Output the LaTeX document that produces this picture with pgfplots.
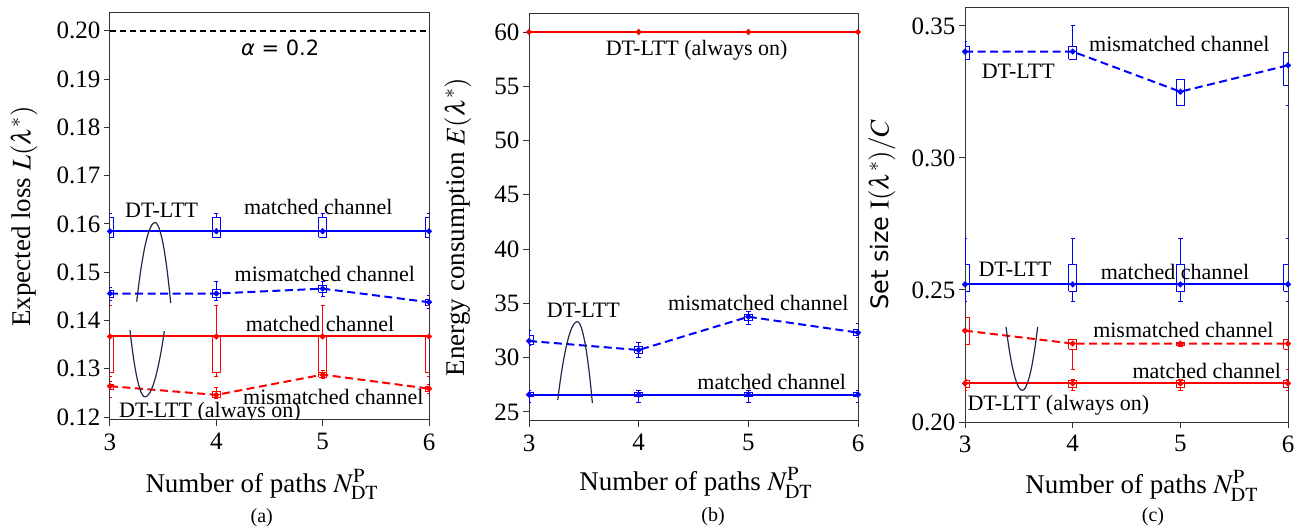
\documentclass[border=0pt]{standalone}
\usepackage{mathptmx}
\usepackage{fontspec}
\setmainfont{Liberation Serif}
\newfontfamily\dejavu{DejaVu Sans}
\usepackage{pgfplots}
\pgfplotsset{compat=1.18}
\definecolor{mblue}{RGB}{0,0,255}
\definecolor{mred}{RGB}{255,0,0}
\definecolor{navy}{RGB}{30,42,72}
\newcommand{\af}{\fontsize{22}{22}\selectfont}
% box: colour, position, lower whisker, lower quartile, median, upper quartile, upper whisker
\newcommand{\bx}[7]{%
 \pgfmathsetmacro\bxa{#2-0.0375}%
 \pgfmathsetmacro\bxb{#2+0.0375}%
 \pgfmathsetmacro\bxc{#2-0.02}%
 \pgfmathsetmacro\bxd{#2+0.02}%
 \edef\bxtmp{\noexpand\addplot[#1, line width=1pt, solid, forget plot, mark=none, unbounded coords=jump] coordinates {(\bxa,#4) (\bxb,#4) (\bxb,#6) (\bxa,#6) (\bxa,#4) (nan,nan) (#2,#6) (#2,#7) (nan,nan) (\bxc,#7) (\bxd,#7) (nan,nan) (#2,#4) (#2,#3) (nan,nan) (\bxc,#3) (\bxd,#3) (nan,nan) (\bxa,#5) (\bxb,#5)};}%
 \bxtmp
}
\pgfplotsset{
  myax/.style={
    scale only axis, anchor=south west, xmin=3, xmax=6, xtick={3,4,5,6},
    tick pos=left, tick align=outside, major tick length=6pt,
    axis line style={line width=1pt, black!80},
    every tick/.style={black!80, line width=1pt},
    tick label style={font=\fontsize{25}{25}\selectfont},
    xticklabel style={yshift=-4pt},
    label style={font=\fontsize{27}{27}\selectfont},
    /pgf/number format/assume math mode=true,
    scaled y ticks=false,
  },
  mline/.style={line width=2pt, mark=*, mark size=1.8pt, mark options={solid}},
  dline/.style={line width=2pt, dash pattern=on 8pt off 4.5pt, mark=*, mark size=1.8pt, mark options={solid}},
}
\begin{document}
\begin{tikzpicture}
\useasboundingbox (0,0) rectangle (1295pt,527pt);
% ---------------- (a)
\begin{axis}[myax, at={(110pt,107pt)}, width=319pt, height=407pt,
  ymin=0.1194, ymax=0.2037,
  ytick={0.12,0.13,0.14,0.15,0.16,0.17,0.18,0.19,0.20},
  yticklabel style={/pgf/number format/fixed, /pgf/number format/fixed zerofill, /pgf/number format/precision=2},
  ylabel={Expected loss $L(\lambda^{*})$},
  xlabel={Number of paths $N_{\mathrm{DT}}^{\mathrm{P}}$},
  ylabel style={at={(axis description cs:-0.27,0.5)}, anchor=center},
  xlabel style={at={(axis description cs:0.476,-0.177)}, anchor=base}]
\addplot[black, line width=1.5pt, dash pattern=on 6pt off 4pt] coordinates {(3,0.2) (6,0.2)};
% blue matched
\bx{mblue}{3}{0.1572}{0.1572}{0.1585}{0.1614}{0.1622}
\bx{mblue}{4}{0.1572}{0.1572}{0.1585}{0.1614}{0.1622}
\bx{mblue}{5}{0.1572}{0.1572}{0.1585}{0.1614}{0.1622}
\bx{mblue}{6}{0.1572}{0.1572}{0.1585}{0.1614}{0.1622}
\addplot[mblue, mline] coordinates {(3,0.1585) (4,0.1585) (5,0.1585) (6,0.1585)};
% blue mismatched
\bx{mblue}{3}{0.1441}{0.1447}{0.1456}{0.1463}{0.1469}
\bx{mblue}{4}{0.1441}{0.1448}{0.1456}{0.1465}{0.1481}
\bx{mblue}{5}{0.1450}{0.1459}{0.1466}{0.1472}{0.1481}
\bx{mblue}{6}{0.1425}{0.1432}{0.1438}{0.1444}{0.1452}
\addplot[mblue, dline] coordinates {(3,0.1456) (4,0.1456) (5,0.1466) (6,0.1438)};
% red matched
\bx{mred}{3}{0.1284}{0.1292}{0.1367}{0.1367}{0.1431}
\bx{mred}{4}{0.1284}{0.1292}{0.1367}{0.1367}{0.1431}
\bx{mred}{5}{0.1284}{0.1292}{0.1367}{0.1367}{0.1431}
\bx{mred}{6}{0.1284}{0.1292}{0.1367}{0.1367}{0.1431}
\addplot[mred, mline] coordinates {(3,0.1367) (4,0.1367) (5,0.1367) (6,0.1367)};
% red mismatched
\bx{mred}{3}{0.1241}{0.1258}{0.1264}{0.1268}{0.1274}
\bx{mred}{4}{0.1238}{0.1240}{0.1246}{0.1252}{0.1262}
\bx{mred}{5}{0.1280}{0.1283}{0.1288}{0.1292}{0.1297}
\bx{mred}{6}{0.1249}{0.1254}{0.1259}{0.1263}{0.1268}
\addplot[mred, dline] coordinates {(3,0.1264) (4,0.1246) (5,0.1288) (6,0.1259)};
\node[font=\dejavu\fontsize{21}{21}\selectfont] at (axis cs:4.6,0.1964) {\textit{α} = 0.2};
\node[font=\af] at (axis cs:3.486,0.1629) {DT-LTT};
\node[font=\af] at (axis cs:4.959,0.1635) {matched channel};
\node[font=\af] at (axis cs:5.02,0.1496) {mismatched channel};
\node[font=\af] at (axis cs:4.975,0.1393) {matched channel};
\node[font=\af] at (axis cs:5.10,0.1242) {mismatched channel};
\node[font=\af] at (axis cs:3.94,0.1211) {DT-LTT (always on)};
\draw[navy, line width=1.2pt] (axis cs:3.251,0.1439) parabola bend (axis cs:3.423,0.1603) (axis cs:3.571,0.1436);
\draw[navy, line width=1.2pt] (axis cs:3.188,0.1380) parabola bend (axis cs:3.329,0.1242) (axis cs:3.511,0.1378);
\end{axis}
% ---------------- (b)
\begin{axis}[myax, at={(529pt,106pt)}, width=329pt, height=407pt,
  ymin=24.17, ymax=61.66,
  ytick={25,30,35,40,45,50,55,60},
  ylabel={Energy consumption $E(\lambda^{*})$},
  xlabel={Number of paths $N_{\mathrm{DT}}^{\mathrm{P}}$},
  ylabel style={at={(axis description cs:-0.216,0.477)}, anchor=center},
  xlabel style={at={(axis description cs:0.507,-0.171)}, anchor=base}]
\addplot[mred, mline] coordinates {(3,60) (4,60) (5,60) (6,60)};
\bx{mblue}{3}{31.08}{31.2}{31.54}{32.0}{32.47}
\bx{mblue}{4}{30.0}{30.4}{30.71}{31.0}{31.39}
\bx{mblue}{5}{33.09}{33.4}{33.77}{34.0}{34.23}
\bx{mblue}{6}{31.85}{32.0}{32.31}{32.6}{33.15}
\addplot[mblue, dline] coordinates {(3,31.54) (4,30.71) (5,33.77) (6,32.31)};
\bx{mblue}{3}{25.83}{26.4}{26.6}{26.8}{27.0}
\bx{mblue}{4}{25.83}{26.4}{26.6}{26.8}{27.0}
\bx{mblue}{5}{25.83}{26.4}{26.6}{26.8}{27.0}
\bx{mblue}{6}{25.83}{26.4}{26.6}{26.8}{27.0}
\addplot[mblue, mline] coordinates {(3,26.6) (4,26.6) (5,26.6) (6,26.6)};
\node[font=\af] at (axis cs:4.529,58.34) {DT-LTT (always on)};
\node[font=\af] at (axis cs:3.495,34.40) {DT-LTT};
\node[font=\af] at (axis cs:5.091,35.0) {mismatched channel};
\node[font=\af] at (axis cs:5.213,27.80) {matched channel};
\draw[navy, line width=1.2pt] (axis cs:3.262,26.11) parabola bend (axis cs:3.440,33.32) (axis cs:3.578,25.81);
\end{axis}
% ---------------- (c)
\begin{axis}[myax, at={(965pt,105pt)}, width=323pt, height=414pt,
  ymin=0.20, ymax=0.3568,
  ytick={0.20,0.25,0.30,0.35},
  yticklabel style={/pgf/number format/fixed, /pgf/number format/fixed zerofill, /pgf/number format/precision=2},
  ylabel={{\dejavu\fontsize{24}{24}\selectfont Set size} $\mathrm{I}(\lambda^{*})/C$},
  xlabel={Number of paths $N_{\mathrm{DT}}^{\mathrm{P}}$},
  ylabel style={at={(axis description cs:-0.257,0.5)}, anchor=center},
  xlabel style={at={(axis description cs:0.547,-0.172)}, anchor=base}]
\bx{mblue}{3}{0.3374}{0.3374}{0.3403}{0.3422}{0.3440}
\bx{mblue}{4}{0.3374}{0.3374}{0.3403}{0.3422}{0.3500}
\bx{mblue}{5}{0.3197}{0.3197}{0.3251}{0.3299}{0.3299}
\bx{mblue}{6}{0.3197}{0.3273}{0.3351}{0.3399}{0.3399}
\addplot[mblue, dline] coordinates {(3,0.3403) (4,0.3403) (5,0.3251) (6,0.3351)};
\bx{mblue}{3}{0.2458}{0.2496}{0.2521}{0.2595}{0.2696}
\bx{mblue}{4}{0.2458}{0.2496}{0.2521}{0.2595}{0.2696}
\bx{mblue}{5}{0.2458}{0.2496}{0.2521}{0.2595}{0.2696}
\bx{mblue}{6}{0.2458}{0.2496}{0.2521}{0.2595}{0.2696}
\addplot[mblue, mline] coordinates {(3,0.2521) (4,0.2521) (5,0.2521) (6,0.2521)};
\bx{mred}{3}{0.2294}{0.2294}{0.2346}{0.2394}{0.2394}
\bx{mred}{4}{0.2197}{0.2275}{0.2297}{0.2312}{0.2312}
\bx{mred}{5}{0.2285}{0.2288}{0.2297}{0.2302}{0.2302}
\bx{mred}{6}{0.2200}{0.2275}{0.2297}{0.2312}{0.2312}
\addplot[mred, dline] coordinates {(3,0.2346) (4,0.2297) (5,0.2297) (6,0.2297)};
\bx{mred}{3}{0.2118}{0.2130}{0.2146}{0.2156}{0.2160}
\bx{mred}{4}{0.2118}{0.2130}{0.2146}{0.2156}{0.2160}
\bx{mred}{5}{0.2118}{0.2130}{0.2146}{0.2156}{0.2160}
\bx{mred}{6}{0.2118}{0.2130}{0.2146}{0.2156}{0.2160}
\addplot[mred, mline] coordinates {(3,0.2146) (4,0.2146) (5,0.2146) (6,0.2146)};
\node[font=\af] at (axis cs:4.990,0.3432) {mismatched channel};
\node[font=\af] at (axis cs:3.495,0.3327) {DT-LTT};
\node[font=\af] at (axis cs:3.464,0.2578) {DT-LTT};
\node[font=\af] at (axis cs:4.950,0.2569) {matched channel};
\node[font=\af] at (axis cs:5.028,0.2350) {mismatched channel};
\node[font=\af] at (axis cs:5.245,0.2193) {matched channel};
\node[font=\af] at (axis cs:3.867,0.2063) {DT-LTT (always on)};
\draw[navy, line width=1.2pt] (axis cs:3.381,0.2360) parabola bend (axis cs:3.532,0.2120) (axis cs:3.675,0.2360);
\end{axis}
\node[font=\fontsize{20}{20}\selectfont, anchor=base] at (261.7pt,4pt) {(a)};
\node[font=\fontsize{20}{20}\selectfont, anchor=base] at (713pt,5.3pt) {(b)};
\node[font=\fontsize{20}{20}\selectfont, anchor=base] at (1153pt,5pt) {(c)};
\end{tikzpicture}
\end{document}
